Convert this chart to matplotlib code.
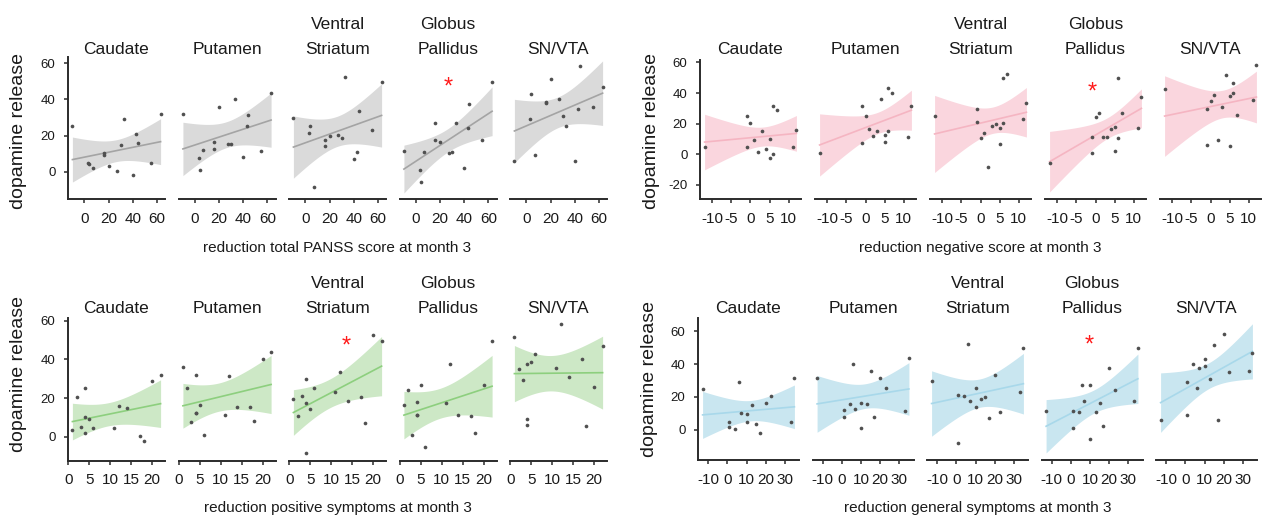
import numpy as np
import matplotlib
matplotlib.use("Agg")
import matplotlib.pyplot as plt
import matplotlib.transforms as mtransforms

plt.rcParams['font.family'] = ['Liberation Sans', 'DejaVu Sans']

# ---- data: 15 subjects (same order in every array) ----
total_panss = [-10, 3, 4, 7, 16, 16, 20, 27, 30, 33, 40, 43, 44, 55, 63]
negative_score = [-1, -1, -12, 2, 1, 5, 4, 6, 3, 7, 5, 0, 12, 11, 6]
positive_symptoms = [4, 3, 6, 4, 5, 4, 1, 17, 14, 20, 18, 2, 12, 11, 22]
general_symptoms = [-13, 1, 10, 1, 10, 7, 15, 4, 13, 6, 17, 23, 20, 33, 35]

region_titles = ['Caudate', 'Putamen', 'Ventral\nStriatum', 'Globus\nPallidus', 'SN/VTA']
caudate = [25.0, 4.8, 4.5, 1.8, 9.3, 10.1, 3.3, 0.1, 14.9, 29.0, -2.1, 20.7, 16.0, 4.7, 31.7]
putamen = [31.7, 7.6, 0.9, 12.2, 16.2, 12.3, 35.9, 15.5, 15.4, 40.3, 7.9, 25.2, 31.3, 11.2, 43.6]
ventral_striatum = [29.7, 21.2, 25.2, -8.3, 14.1, 17.3, 19.7, 20.4, 18.5, 52.4, 7.0, 10.9, 33.3, 23.0, 49.6]
globus_pallidus = [11.2, 1.0, -5.5, 11.1, 27.0, 17.7, 16.4, 10.6, 11.0, 27.0, 2.1, 24.4, 37.5, 17.4, 49.7]
sn_vta = [5.9, 29.3, 42.8, 9.2, 38.8, 37.8, 51.5, 40.0, 30.7, 25.5, 5.7, 34.9, 58.3, 35.6, 46.8]
regions = [caudate, putamen, ventral_striatum, globus_pallidus, sn_vta]

score_labels = ['reduction total PANSS score at month 3',
                'reduction negative score at month 3',
                'reduction positive symptoms at month 3',
                'reduction general symptoms at month 3']
x_ticks = [[0, 20, 40, 60], [-10, -5, 0, 5, 10], [0, 5, 10, 15, 20], [-10, 0, 10, 20, 30]]
y_ticks = [[0, 20, 40, 60], [-20, 0, 20, 40, 60], [0, 20, 40, 60], [0, 20, 40, 60]]
significant_region = [3, 3, 2, 3]
y_label = 'dopamine release'

# ---- style / layout ----
W, H = 1264, 519
fig = plt.figure(figsize=(W / 100, H / 100), dpi=100)

groups = [
    dict(x=total_panss, starts=[68, 178.5, 289, 399.5, 510], width=97, top=57.3, bot=199.3,
         ylim=(-15.3, 63.3), line='#a4a4a4', band='#dadada', ylab=(19, 131), xlab=(337.5, 248),
         title_base=54.5, star=(0.50, 0.833)),
    dict(x=negative_score, starts=[700, 815, 930, 1045, 1160], width=101, top=60, bot=199.3,
         ylim=(-29.4, 61.6), line='#f5b5c2', band='#fad6de', ylab=(651, 131), xlab=(980.5, 248),
         title_base=54.5, star=(0.47, 0.82)),
    dict(x=positive_symptoms, starts=[68, 178.5, 289, 399.5, 510], width=97, top=318.3, bot=461,
         ylim=(-12.6, 61.3), line='#8dcf7e', band='#cde8c6', ylab=(19, 374.5), xlab=(337.5, 508),
         title_base=313, star=(0.595, 0.853)),
    dict(x=general_symptoms, starts=[698, 812.5, 927, 1041.5, 1156], width=101, top=318.3, bot=460,
         ylim=(-18.5, 67.9), line='#a8d8ea', band='#c9e6f0', ylab=(649, 379), xlab=(977.5, 508),
         title_base=313, star=(0.47, 0.854)),
]

T_CRIT = 2.1604  # t quantile, 0.975, df = 13


def lm_band(x, y, n_pts=80):
    x = np.asarray(x, float)
    y = np.asarray(y, float)
    n = len(x)
    b, a = np.polyfit(x, y, 1)
    xs = np.linspace(x.min(), x.max(), n_pts)
    yhat = a + b * xs
    resid = y - (a + b * x)
    s = np.sqrt(np.sum(resid ** 2) / (n - 2))
    sxx = np.sum((x - x.mean()) ** 2)
    se = s * np.sqrt(1.0 / n + (xs - x.mean()) ** 2 / sxx)
    return xs, yhat, yhat - T_CRIT * se, yhat + T_CRIT * se


spine_col = '#2b2b2b'
for gi, g in enumerate(groups):
    xv = np.asarray(g['x'], float)
    r = xv.max() - xv.min()
    xlim = (xv.min() - 0.05 * r, xv.max() + 0.05 * r)
    for ri, (x0, yv) in enumerate(zip(g['starts'], regions)):
        ax = fig.add_axes([x0 / W, 1 - g['bot'] / H, g['width'] / W, (g['bot'] - g['top']) / H])
        xs, yhat, lo, hi = lm_band(xv, yv)
        ax.fill_between(xs, lo, hi, color=g['band'], lw=0, zorder=1)
        ax.plot(xs, yhat, color=g['line'], lw=1.2, zorder=2)
        ax.scatter(xv, yv, s=7, color='#505050', lw=0, zorder=3)
        ax.set_xlim(*xlim)
        ax.set_ylim(*g['ylim'])
        ax.set_xticks(x_ticks[gi])
        ax.set_xticklabels([str(t) for t in x_ticks[gi]])
        for side in ('top', 'right'):
            ax.spines[side].set_visible(False)
        ax.spines['bottom'].set_color(spine_col)
        ax.spines['bottom'].set_linewidth(1.4)
        ax.tick_params(axis='x', direction='out', length=3, width=1.1, color=spine_col,
                       labelsize=11, labelcolor='#1a1a1a', pad=6)
        if ri == 0:
            ax.spines['left'].set_color(spine_col)
            ax.spines['left'].set_linewidth(1.4)
            ax.set_yticks(y_ticks[gi])
            ax.set_yticklabels([str(t) for t in y_ticks[gi]])
            ax.tick_params(axis='y', direction='out', length=3, width=1.1, color=spine_col,
                           labelsize=9.5, labelcolor='#1a1a1a', pad=6)
        else:
            ax.spines['left'].set_visible(False)
            ax.set_yticks([])
        ax.patch.set_alpha(0)
        cx = (x0 + g['width'] / 2) / W
        fig.text(cx, 1 - g['title_base'] / H, region_titles[ri], ha='center', va='baseline',
                 fontsize=12.5, color='#1a1a1a', linespacing=1.85, multialignment='center')
        if ri == significant_region[gi]:
            tr = mtransforms.offset_copy(ax.transAxes, fig=fig, y=-0.55 * 17, units='points')
            ax.text(g['star'][0], g['star'][1], '*', transform=tr, ha='center', va='baseline',
                    fontsize=17, color='#ff1a1a', clip_on=False)
    fig.text(g['ylab'][0] / W, 1 - g['ylab'][1] / H, y_label, rotation=90, ha='center',
             va='center', fontsize=14, color='#1a1a1a')
    fig.text(g['xlab'][0] / W, 1 - g['xlab'][1] / H, score_labels[gi], ha='center',
             va='center', fontsize=11, color='#1a1a1a')

fig.savefig('out.png', dpi=100)
